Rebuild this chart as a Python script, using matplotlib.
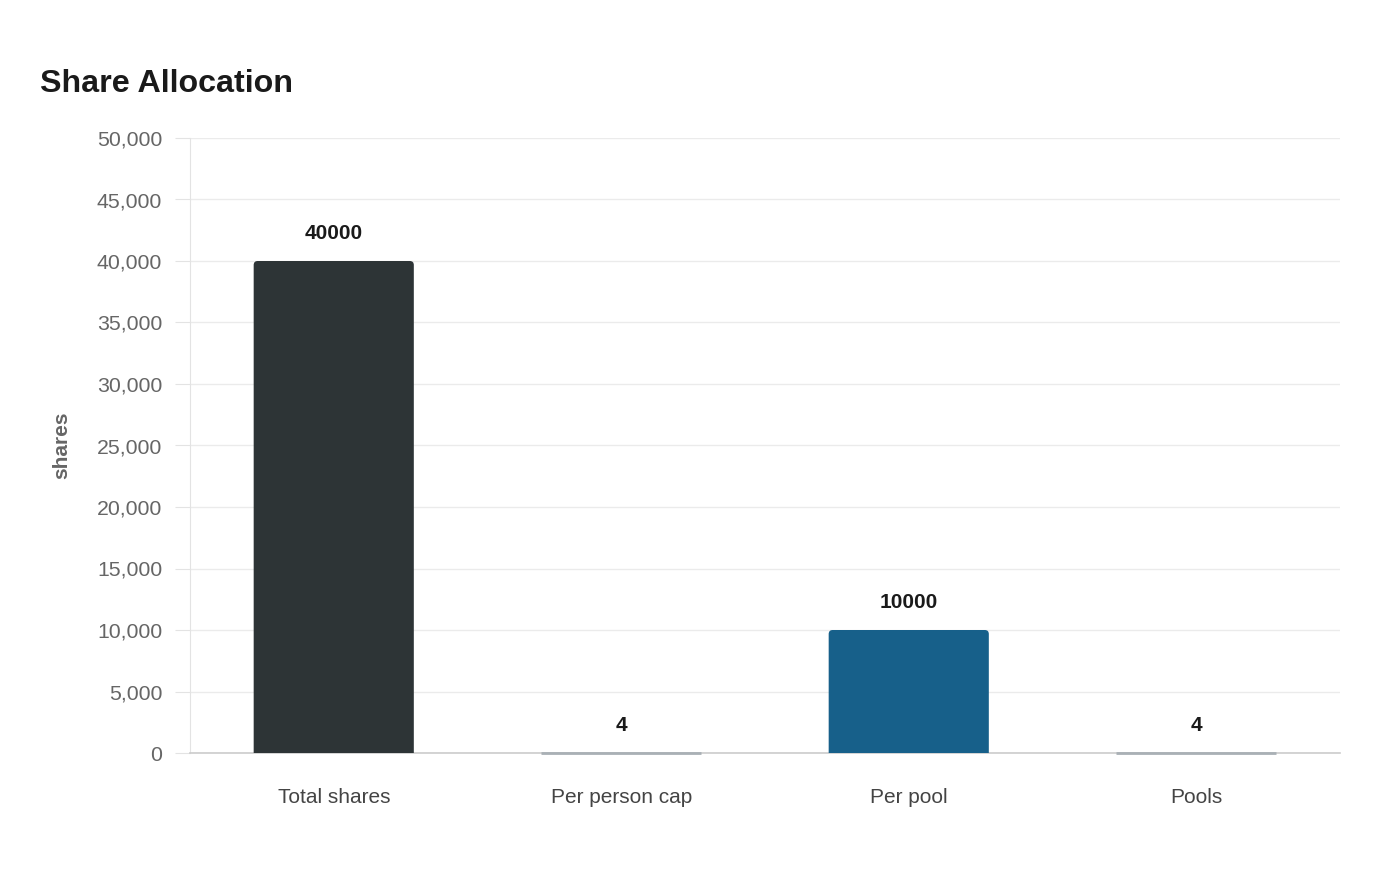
import matplotlib
matplotlib.use("Agg")
import matplotlib.pyplot as plt
from matplotlib.patches import FancyBboxPatch
from matplotlib.ticker import FuncFormatter, MultipleLocator

categories = ["Total shares", "Per person cap", "Per pool", "Pools"]
values = [40000, 4, 10000, 4]
colors = ["#2d3436", "#a9b0b5", "#17608a", "#a9b0b5"]

plt.rcParams['font.family'] = ['Liberation Sans', 'DejaVu Sans']

fig = plt.figure(figsize=(14, 8.8), dpi=100)
ax = fig.add_axes([190/1400, 1-753/880, 1150/1400, 615/880])

ymax = 50000
ax.set_xlim(-0.5, len(categories) - 0.5)
ax.set_ylim(0, ymax)

bw = 0.557
px_x = 1150 / len(categories)
px_y = 615 / ymax
r_px = 4
for i, (v, c) in enumerate(zip(values, colors)):
    h_px = v * px_y
    if h_px > 2 * r_px:
        p = FancyBboxPatch((i - bw/2, -r_px/px_y), bw, v + r_px/px_y,
                           boxstyle=f"round,pad=0,rounding_size={r_px/px_x}",
                           mutation_aspect=(1/px_y)/(1/px_x),
                           facecolor=c, edgecolor="none", zorder=3)
        ax.add_patch(p)
    else:
        ax.plot([i - bw/2, i + bw/2], [0, 0], color=c, lw=2.0, zorder=4,
                solid_capstyle="butt", clip_on=False)
    ax.annotate(str(v), (i, v), xytext=(0, 20), textcoords="offset points",
                ha="center", va="center", fontsize=15, fontweight="bold",
                color="#1a1a1a")

ax.yaxis.set_major_locator(MultipleLocator(5000))
ax.yaxis.set_major_formatter(FuncFormatter(lambda v, p: f"{int(v):,}"))
ax.set_xticks(range(len(categories)))
ax.set_xticklabels(categories)
ax.grid(axis="y", color="#ebebeb", lw=1, zorder=0)
ax.set_axisbelow(True)
for s in ["top", "right"]:
    ax.spines[s].set_visible(False)
ax.spines["left"].set_color("#e3e3e3")
ax.spines["bottom"].set_color("#cccccc")
ax.spines["bottom"].set_linewidth(1.2)
ax.tick_params(axis="y", length=11, color="#e3e3e3", labelsize=15.3,
               labelcolor="#666666", pad=9)
ax.tick_params(axis="x", length=0, labelsize=15, labelcolor="#444444", pad=25)
ax.set_ylabel("shares", fontsize=15, fontweight="bold", color="#666666")
ax.yaxis.set_label_coords(-128/1150, 0.5)
ax.yaxis.label.set_verticalalignment("center")

fig.text(40/1400, 1-80/880, "Share Allocation", fontsize=23.2, fontweight="bold",
         color="#1a1a1a", ha="left", va="center_baseline")

fig.savefig("out.png", dpi=100)
